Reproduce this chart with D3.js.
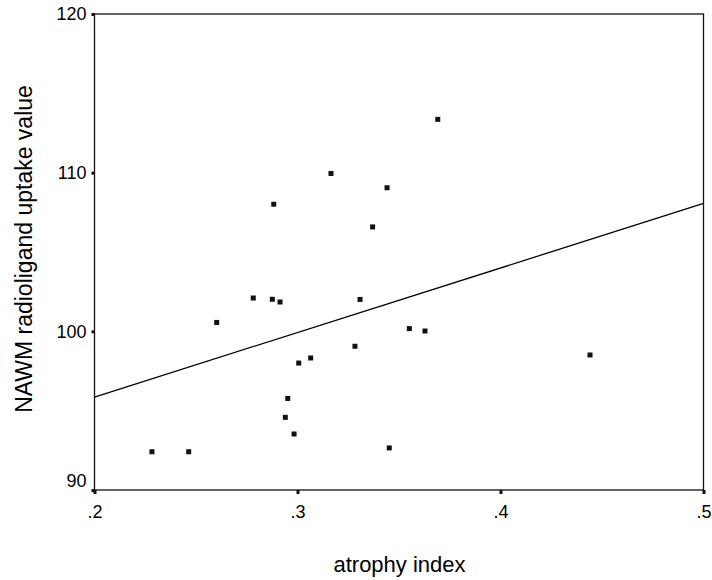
<!DOCTYPE html>
<html>
<head>
<meta charset="utf-8">
<script src="https://cdn.jsdelivr.net/npm/d3@7"></script>
<style>
  body { margin: 0; background: #fff; }
  text { font-family: "Liberation Sans", Arial, sans-serif; fill: #000; }
</style>
</head>
<body>
<div id="plot"></div>
<script>
// data
var atrophy = [.2283, .2464, .2602, .2782, .2876, .2914, .2883, .3165, .3441, .3370, .3691,
               .3308, .3551, .3628, .3283, .3065, .3006, .2952, .2940, .2983, .3452, .4441];
var uptake = [92.41, 92.41, 100.56, 102.10, 102.02, 101.85, 108.01, 109.95, 109.05, 106.58, 113.36,
              102.01, 100.17, 100.02, 99.06, 98.32, 98.00, 95.77, 94.58, 93.53, 92.65, 98.51];
var xTicks = [.2, .3, .4, .5];
var yTicks = [90, 100, 110, 120];

var W = 712, H = 580;
var box = {l: 94.5, r: 703.5, t: 14, b: 490};

var svg = d3.select('#plot').append('svg')
  .attr('width', W)
  .attr('height', H);

var x = d3.scaleLinear().domain([.2, .5]).range([box.l, box.r]);
var y = d3.scaleLinear().domain([90, 120]).range([box.b, box.t]);

// frame
svg.append('rect')
  .attr('x', box.l).attr('y', box.t)
  .attr('width', box.r - box.l).attr('height', box.b - box.t)
  .attr('fill', 'none').attr('stroke', '#111').attr('stroke-width', 1.3);

// axes: little square ticks, no domain line
var xAxis = svg.append('g')
  .attr('transform', 'translate(0,' + box.b + ')')
  .call(d3.axisBottom(x).tickValues(xTicks).tickSize(4).tickPadding(10)
    .tickFormat(function (d) { return d3.format('.1f')(d).replace(/^0/, ''); }));
xAxis.select('.domain').remove();
xAxis.selectAll('.tick line').attr('stroke', '#111').attr('stroke-width', 3);
xAxis.selectAll('.tick text').attr('font-size', 18).attr('dy', '0.8em');

var yAxis = svg.append('g')
  .attr('transform', 'translate(' + box.l + ',0)')
  .call(d3.axisLeft(y).tickValues(yTicks).tickSize(3).tickPadding(5));
yAxis.select('.domain').remove();
yAxis.selectAll('.tick line').attr('stroke', '#111').attr('stroke-width', 3);
yAxis.selectAll('.tick text').attr('font-size', 18)
  .attr('y', function (d) { return d === 90 ? -9 : 0; });

// least squares fit line
var mx = d3.mean(atrophy), my = d3.mean(uptake);
var sxy = d3.sum(atrophy, function (v, i) { return (v - mx) * (uptake[i] - my); });
var sxx = d3.sum(atrophy, function (v) { return (v - mx) * (v - mx); });
var slope = sxy / sxx, icpt = my - slope * mx;
var fitX = x.domain();

svg.append('path')
  .datum(fitX)
  .attr('d', d3.line()
    .x(function (d) { return x(d); })
    .y(function (d) { return y(icpt + slope * d); }))
  .attr('fill', 'none')
  .attr('stroke', '#000')
  .attr('stroke-width', 1.3);

// points
svg.append('g').selectAll('rect')
  .data(atrophy)
  .enter().append('rect')
  .attr('x', function (d) { return x(d) - 2.5; })
  .attr('y', function (d, i) { return y(uptake[i]) - 2.5; })
  .attr('width', 5)
  .attr('height', 5)
  .attr('fill', '#111');

// axis titles
svg.append('text')
  .attr('x', (box.l + box.r) / 2 + 0.5)
  .attr('y', 572)
  .attr('text-anchor', 'middle')
  .attr('font-size', 22)
  .text('atrophy index');

svg.append('text')
  .attr('transform', 'translate(32,' + ((box.t + box.b) / 2 - 3) + ') rotate(-90)')
  .attr('text-anchor', 'middle')
  .attr('font-size', 23)
  .text('NAWM radioligand uptake value');
</script>
</body>
</html>
